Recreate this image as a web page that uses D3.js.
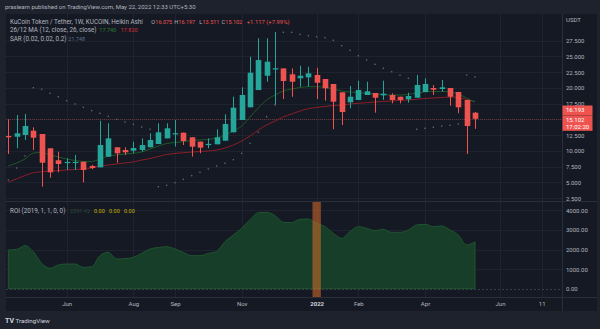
<!DOCTYPE html>
<html><head><meta charset="utf-8">
<script src="https://cdn.jsdelivr.net/npm/d3@7"></script>
<style>
html,body{margin:0;padding:0;background:#1e222d;overflow:hidden;}
svg{display:block;font-family:Roboto,"Noto Sans",sans-serif;}
</style></head><body>
<svg id="c" width="600" height="329"></svg>
<script>
const dates = ["2021-04-19","2021-04-26","2021-05-03","2021-05-10","2021-05-17","2021-05-24","2021-05-31","2021-06-07","2021-06-14","2021-06-21","2021-06-28","2021-07-05","2021-07-12","2021-07-19","2021-07-26","2021-08-02","2021-08-09","2021-08-16","2021-08-23","2021-08-30","2021-09-06","2021-09-13","2021-09-20","2021-09-27","2021-10-04","2021-10-11","2021-10-18","2021-10-25","2021-11-01","2021-11-08","2021-11-15","2021-11-22","2021-11-29","2021-12-06","2021-12-13","2021-12-20","2021-12-27","2022-01-03","2022-01-10","2022-01-17","2022-01-24","2022-01-31","2022-02-07","2022-02-14","2022-02-21","2022-02-28","2022-03-07","2022-03-14","2022-03-21","2022-03-28","2022-04-04","2022-04-11","2022-04-18","2022-04-25","2022-05-02","2022-05-09","2022-05-16"];
const open  = [12.37,12.26,12.53,13.21,12.69,10.42,8.52,8.22,8.22,8.29,7.61,7.40,9.09,10.58,10.15,10.04,10.15,10.58,11.10,12.00,12.78,12.90,12.17,11.47,11.08,11.06,11.63,12.96,14.91,16.93,19.67,21.94,23.08,23.10,22.17,21.53,21.69,22.06,21.42,20.63,19.31,17.72,18.09,18.88,19.20,18.83,18.88,18.61,18.20,18.45,19.36,19.99,19.83,19.99,19.36,18.09,16.075];
const high  = [15.02,15.70,15.87,13.75,12.69,10.42,9.88,8.83,9.36,8.29,7.80,14.80,14.39,10.58,10.58,11.47,12.00,12.80,14.39,14.39,14.90,12.90,12.17,11.47,12.00,13.44,15.82,18.61,20.10,24.96,27.88,27.88,28.90,23.10,23.10,23.53,23.37,23.20,21.42,20.63,19.31,20.31,21.15,20.99,19.20,21.15,19.15,18.61,19.25,22.06,21.53,20.47,21.26,19.99,19.36,18.09,16.197];
const low   = [9.52,10.42,11.74,10.15,4.33,5.75,6.61,6.98,6.98,5.02,7.10,7.40,9.09,8.13,9.36,9.63,9.88,10.58,11.10,12.00,10.70,10.94,9.09,9.63,10.42,11.06,11.63,12.96,14.91,16.93,19.67,20.99,17.30,18.25,18.60,20.20,20.20,18.25,17.98,13.44,14.12,16.77,18.09,18.88,16.07,18.09,17.56,17.56,17.66,18.45,19.36,18.88,19.40,17.18,15.98,9.52,13.511];
const close = [12.17,12.80,13.96,12.10,8.13,6.61,7.93,8.26,8.26,6.98,7.29,10.94,12.00,9.63,9.79,10.47,10.94,11.74,12.96,13.60,12.82,11.58,10.68,10.52,11.12,12.17,14.28,16.87,18.88,22.42,24.44,24.17,23.12,21.10,20.99,21.94,22.32,20.83,19.94,17.82,16.18,18.61,19.67,19.47,18.45,19.09,18.09,18.09,18.72,20.47,20.63,19.72,20.10,18.61,16.93,13.96,15.102];
const ma12  = [7.61,8.09,8.72,9.67,9.75,9.36,9.04,8.72,8.48,8.33,8.33,8.72,9.20,9.36,9.52,9.63,9.83,10.31,10.79,11.18,11.34,11.47,11.66,11.74,11.82,12.06,12.53,13.17,13.96,15.39,16.82,18.09,18.88,19.52,19.83,20.07,20.20,20.20,20.10,19.83,19.52,19.36,19.28,19.12,19.04,18.96,18.88,18.88,18.96,19.20,19.36,19.44,19.44,19.36,19.04,18.40,17.74];
const ma26  = [5.07,5.55,6.10,6.55,6.71,6.82,6.87,6.98,7.06,7.14,7.29,7.61,7.77,7.93,8.09,8.25,8.56,8.80,9.12,9.44,9.60,9.72,9.83,9.91,9.99,10.15,10.47,10.94,11.58,12.37,13.33,14.12,14.75,15.39,15.87,16.34,16.71,16.90,17.06,17.21,17.29,17.45,17.56,17.66,17.77,17.85,17.93,18.01,18.09,18.20,18.33,18.40,18.48,18.56,18.48,18.17,17.82];
const sar   = [5.40,7.30,9.20,20.04,19.80,19.15,18.60,17.98,17.45,16.93,16.40,15.98,15.50,15.02,14.60,14.23,13.80,13.44,4.33,4.55,4.96,5.50,6.07,6.61,7.13,7.61,8.04,8.62,9.63,11.20,12.96,15.44,17.30,28.83,28.83,28.50,28.29,28.13,27.98,27.56,26.71,25.98,25.12,24.44,23.75,23.12,22.58,22.01,21.53,13.44,13.60,13.75,13.96,14.07,14.28,22.06,21.748];
const roi   = [1974,2008,2196,1889,1294,1038,1208,1259,1259,1089,1123,1685,1855,1515,1532,1600,1804,2025,2100,2145,2025,1850,1685,1685,1800,1900,2400,2740,3081,3520,3880,3898,3727,3387,3370,3540,3557,3336,3166,2825,2570,2910,3166,3081,2961,3030,2876,2876,2996,3251,3285,3166,3200,2996,2740,2230,2391.42];
const priceTicks = [2.5,5,7.5,10,12.5,15,17.5,20,22.5,25,27.5];
const priceLabelTicks = [2.5,5,7.5,10,12.5,17.5,20,22.5,25,27.5];
const roiTicks = [0,1000,2000,3000,4000];
const timeTickDates = ["2021-06-07","2021-08-02","2021-09-06","2021-11-01","2022-01-03","2022-02-07","2022-04-04","2022-06-06","2022-07-11"];
const timeTickLabels = ["Jun","Aug","Sep","Nov","2022","Feb","Apr","Jun","11"];
const highlightDate = "2022-01-03";
const lastClose = 15.102, realLast = 16.193, countdown = "17:02:20";

const W=600,H=329, L=6, R=562, PT=14, PB=201.5, RT=201.5, RB=297, AB=311;
const parse = d3.utcParse("%Y-%m-%d");
const dts = dates.map(parse);
const x = d3.scaleUtc().domain([dts[0], dts[dts.length-1]]).range([8.33,475]);
const y = d3.scaleLinear().domain([2.5,27.5]).range([198.2,40.7]);
const yr = d3.scaleLinear().domain([0,4000]).range([288.7,210.3]);
const svg = d3.select("#c");
const UP="#26a69a", DN="#ef5350", TXT="#b2b5be", GRID="#1f2330", BORDER="#2a2e39", BG="#151924";

svg.append("rect").attr("width",W).attr("height",H).attr("fill","#1e222d");
svg.append("rect").attr("x",L).attr("y",PT).attr("width",597-L).attr("height",AB-PT).attr("fill",BG);

const defs = svg.append("defs");
defs.append("clipPath").attr("id","cp").append("rect").attr("x",L).attr("y",PT).attr("width",R-L).attr("height",PB-PT);
defs.append("clipPath").attr("id","cr").append("rect").attr("x",L).attr("y",RT).attr("width",R-L).attr("height",RB-RT);

// grids
const g = svg.append("g");
g.selectAll(".hg").data(priceTicks).join("line").attr("x1",L).attr("x2",R).attr("y1",d=>Math.round(y(d))+0.5).attr("y2",d=>Math.round(y(d))+0.5).attr("stroke",GRID);
g.selectAll(".hr").data(roiTicks.slice(1)).join("line").attr("x1",L).attr("x2",R).attr("y1",d=>Math.round(yr(d))+0.5).attr("y2",d=>Math.round(yr(d))+0.5).attr("stroke",GRID);
g.selectAll(".vg").data(timeTickDates.map(parse)).join("line").attr("x1",d=>Math.round(x(d))+0.5).attr("x2",d=>Math.round(x(d))+0.5).attr("y1",PT).attr("y2",RB).attr("stroke",GRID);

// price pane
const pp = svg.append("g").attr("clip-path","url(#cp)");
pp.append("line").attr("x1",L).attr("x2",R).attr("y1",Math.round(y(lastClose))+0.5).attr("y2",Math.round(y(lastClose))+0.5).attr("stroke","rgba(239,83,80,0.35)").attr("stroke-dasharray","1,1");
const idx = d3.range(dates.length);
pp.append("path").datum(idx).attr("fill","none").attr("stroke","#8a1f28").attr("stroke-width",1)
  .attr("d",d3.line().x(i=>x(dts[i])).y(i=>y(ma26[i])).curve(d3.curveMonotoneX));
pp.append("path").datum(idx).attr("fill","none").attr("stroke","#1d5a28").attr("stroke-width",1)
  .attr("d",d3.line().x(i=>x(dts[i])).y(i=>y(ma12[i])).curve(d3.curveMonotoneX));
const col = i => close[i] >= open[i] ? UP : DN;
pp.selectAll(".wk").data(idx).join("line").attr("x1",i=>Math.round(x(dts[i]))+0.5).attr("x2",i=>Math.round(x(dts[i]))+0.5)
  .attr("y1",i=>y(high[i])).attr("y2",i=>y(low[i])).attr("stroke",col).attr("stroke-width",1);
const bw = 5.6;
pp.selectAll(".bd").data(idx).join("rect")
  .attr("x",i=>Math.round(x(dts[i]))+0.5-bw/2)
  .attr("y",i=>Math.min(y(open[i]),y(close[i])))
  .attr("width",bw)
  .attr("height",i=>Math.max(1.2,Math.abs(y(open[i])-y(close[i]))))
  .attr("fill",col);
pp.selectAll(".sr").data(idx).join("rect").attr("x",i=>x(dts[i])-0.7).attr("y",i=>y(sar[i])-0.7).attr("width",1.4).attr("height",1.4).attr("fill","#5f636e");

// roi pane
const rp = svg.append("g").attr("clip-path","url(#cr)");
rp.append("path").datum(idx).attr("fill","#173e28").attr("stroke","#1f5530").attr("stroke-width",1)
  .attr("d",d3.area().x(i=>x(dts[i])).y0(yr(0)).y1(i=>yr(roi[i])).curve(d3.curveMonotoneX));
rp.append("line").attr("x1",L).attr("x2",R).attr("y1",Math.round(yr(0))+0.5).attr("y2",Math.round(yr(0))+0.5).attr("stroke","#3a3e49").attr("stroke-dasharray","2,2");
const hx = x(parse(highlightDate));
rp.append("rect").attr("x",hx-4.2).attr("y",RT).attr("width",8.4).attr("height",RB-RT).attr("fill","rgba(235,115,40,0.5)");

// borders
svg.append("line").attr("x1",L).attr("x2",597).attr("y1",PB).attr("y2",PB).attr("stroke",BORDER);
svg.append("line").attr("x1",L).attr("x2",597).attr("y1",RB+0.5).attr("y2",RB+0.5).attr("stroke",BORDER);
svg.append("line").attr("x1",R+0.5).attr("x2",R+0.5).attr("y1",PT).attr("y2",AB).attr("stroke",BORDER);

// axes
const fs = 6.0, fl = 6.3, fv = 5.5;
const ay = svg.append("g").attr("transform",`translate(${R},0)`).call(d3.axisRight(y).tickValues(priceLabelTicks).tickFormat(d3.format(".3f")).tickSize(0).tickPadding(4));
const ar = svg.append("g").attr("transform",`translate(${R},0)`).call(d3.axisRight(yr).tickValues(roiTicks).tickFormat(d3.format(".2f")).tickSize(0).tickPadding(4));
const ax = svg.append("g").attr("transform",`translate(0,${RB})`).call(d3.axisBottom(x).tickValues(timeTickDates.map(parse)).tickFormat((d,i)=>timeTickLabels[i]).tickSize(0).tickPadding(5));
[ay,ar,ax].forEach(a=>{a.select(".domain").remove(); a.selectAll("text").attr("fill",TXT).attr("font-size",fs).attr("font-family","Roboto,sans-serif");});
ax.selectAll("text").filter((d,i)=>timeTickLabels[i]==="2022").attr("font-weight","bold").attr("fill","#d1d4dc");
svg.append("text").attr("x",566).attr("y",22).attr("fill",TXT).attr("font-size",fs).text("USDT");

// price labels
function plabel(yc,h,lines){
  svg.append("rect").attr("x",R+0.5).attr("y",yc).attr("width",30).attr("height",h).attr("fill",DN);
  lines.forEach((t,k)=>svg.append("text").attr("x",566).attr("y",yc+6.5+k*7).attr("fill","#fff").attr("font-size",fs).text(t));
}
plabel(105.5,9.5,[d3.format(".3f")(realLast)]);
plabel(115.3,15.5,[d3.format(".3f")(lastClose),countdown]);

// header & legends (pieces at measured x positions)
function put(xs,yy,s,c,f){ svg.append("text").attr("x",xs).attr("y",yy).attr("font-size",f||fl).attr("fill",c).text(s); }
put(5,9.3,"praslearn published on TradingView.com, May 22, 2022 12:33 UTC+5:30",TXT,6.0);
const n = dates.length-1;
const f3 = d3.format(".3f");
put(10,24.4,"KuCoin Token / Tether, 1W, KUCOIN, Heikin Ashi",TXT);
put(151.3,24.4,"O",TXT,fv); put(155.3,24.4,f3(open[n]),DN,fv);
put(174.3,24.4,"H",TXT,fv); put(178.3,24.4,f3(high[n]),DN,fv);
put(199.3,24.4,"L",TXT,fv); put(202.5,24.4,f3(low[n]),DN,fv);
put(221.5,24.4,"C",TXT,fv); put(225.3,24.4,f3(close[n]),DN,fv);
put(246.7,24.4,"+1.117 (+7.99%)",DN,fv+0.4);
put(10,32.4,"26/12 MA (12, close, 26, close)",TXT);
put(99.3,32.4,f3(ma12[n]),"#2e7d32",fv); put(120.7,32.4,f3(ma26[n]),"#d32f2f",fv);
put(10,40.6,"SAR (0.02, 0.02, 0.2)",TXT); put(68.3,40.6,f3(sar[n]),"#5b7290",fv);
put(10,212.6,"ROI (2019, 1, 1, 0, 0)",TXT);
put(70,212.6,d3.format(".2f")(roi[n]),"#2c4a38",fv);
put(94,212.6,"0.00","#c9b300",fv); put(109,212.6,"0.00","#c9b300",fv); put(124,212.6,"0.00","#c9b300",fv);

// footer
svg.append("text").attr("x",5).attr("y",323).attr("fill","#d1d4dc").attr("font-size",7).attr("font-weight","bold").text("TV");
svg.append("text").attr("x",15.5).attr("y",323).attr("fill","#d1d4dc").attr("font-size",6.2).text("TradingView");
</script></body></html>
